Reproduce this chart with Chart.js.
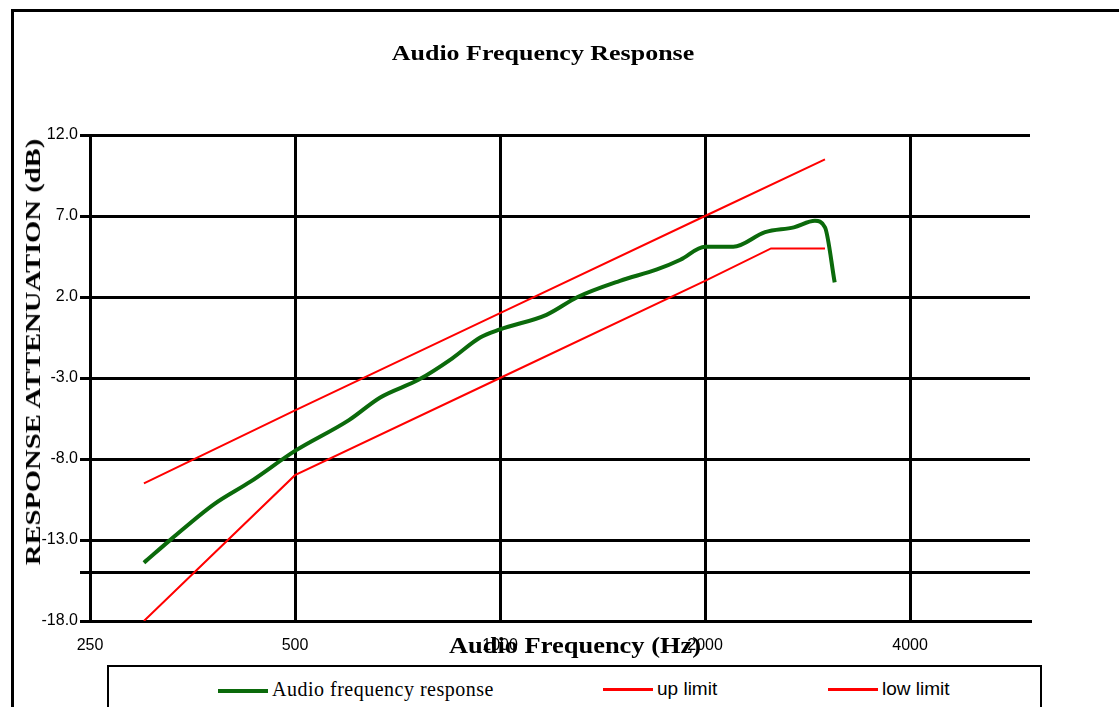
<!DOCTYPE html>
<html>
<head>
<meta charset="utf-8">
<script src="https://cdn.jsdelivr.net/npm/chart.js@4.4.1/dist/chart.umd.min.js"></script>
<style>
  html, body { margin: 0; padding: 0; background: #fff; overflow: hidden; }
  #wrap { position: relative; width: 1119px; height: 707px; overflow: hidden; }
  #frame { position: absolute; left: 11px; top: 9px; width: 1200px; height: 800px;
           border-left: 3px solid #000; border-top: 3px solid #000; }
  #chart { position: absolute; left: 0; top: 0; }
  .ttl { position: absolute; font-family: "Liberation Serif", serif; font-weight: bold; color: #000; white-space: nowrap; }
  #main-title { left: 543px; top: 53px; transform: translate(-50%, -50%) scaleX(1.18); font-size: 22px; }
  #x-title { left: 575px; top: 646px; transform: translate(-50%, -50%) scaleX(1.15); font-size: 23px; }
  #y-title { left: 33px; top: 352px; transform: translate(-50%, -50%) rotate(-90deg) scaleX(1.3); font-size: 22px; }
  #legend { position: absolute; left: 107px; top: 665px; width: 931px; height: 60px;
            border: 2px solid #000; background: #fff; }
  .item { position: absolute; top: 11px; color: #000; white-space: nowrap; }
  .item .sw { display: inline-block; width: 50px; height: 4px; vertical-align: middle; margin-right: 4px; }
</style>
</head>
<body>
<div id="wrap">
  <div id="frame"></div>
  <canvas id="chart" width="1119" height="707"></canvas>
  <div class="ttl" id="main-title">Audio Frequency Response</div>
  <div class="ttl" id="y-title">RESPONSE ATTENUATION (dB)</div>
  <div class="ttl" id="x-title">Audio Frequency (Hz)</div>
  <div id="legend">
    <div class="item" style="left:109px;font-family:'Liberation Serif',serif;font-size:20px;letter-spacing:0.5px"><span class="sw" style="background:#0b6a0b"></span>Audio frequency response</div>
    <div class="item" style="left:494px;font-family:'Liberation Sans',sans-serif;font-size:19px"><span class="sw" style="background:#ff0000;height:3px"></span>up limit</div>
    <div class="item" style="left:719px;font-family:'Liberation Sans',sans-serif;font-size:19px"><span class="sw" style="background:#ff0000;height:3px"></span>low limit</div>
  </div>
</div>
<script>
// data
const respFreq = [300, 330, 380, 430, 500, 600, 667, 760, 850, 935, 1000, 1170, 1300, 1500, 1700, 1840, 2000, 2200, 2450, 2700, 2900, 3000, 3100];
const response = [-14.4, -12.9, -10.8, -9.4, -7.5, -5.6, -4.2, -3.1, -1.8, -0.5, 0.0, 0.9, 2.0, 3.0, 3.7, 4.3, 5.1, 5.1, 6.0, 6.3, 6.7, 6.3, 2.9];
const upFreq = [300, 500, 1000, 2000, 3000];
const upLimit = [-9.5, -5.0, 1.0, 7.0, 10.5];
const lowFreq = [300, 500, 1000, 2000, 2500, 3000];
const lowLimit = [-18.0, -9.0, -3.0, 3.0, 5.0, 5.0];
const xTicks = [250, 500, 1000, 2000, 4000];
const yTicks = [12, 7, 2, -3, -8, -13, -18];
const yExtraGrid = [-15];

function pts(xs, ys) {
  return xs.map((x, i) => ({ x: x, y: ys[i] }));
}

const tickFont = { family: 'Liberation Sans', size: 16 };

new Chart(document.getElementById('chart').getContext('2d'), {
  type: 'line',
  data: {
    datasets: [
      {
        label: 'Audio frequency response',
        data: pts(respFreq, response),
        borderColor: '#0b6a0b',
        borderWidth: 4,
        pointRadius: 0,
        cubicInterpolationMode: 'monotone'
      },
      {
        label: 'up limit',
        data: pts(upFreq, upLimit),
        borderColor: '#ff0000',
        borderWidth: 2,
        pointRadius: 0,
        tension: 0
      },
      {
        label: 'low limit',
        data: pts(lowFreq, lowLimit),
        borderColor: '#ff0000',
        borderWidth: 2,
        pointRadius: 0,
        tension: 0
      }
    ]
  },
  options: {
    responsive: false,
    animation: false,
    layout: { padding: { left: 14, top: 135, right: 89, bottom: 0 } },
    plugins: { legend: { display: false }, tooltip: { enabled: false } },
    scales: {
      x: {
        type: 'logarithmic',
        min: 250,
        max: 6000,
        afterBuildTicks: s => { s.ticks = xTicks.map(v => ({ value: v })); },
        afterFit: s => { s.height = 86; },
        ticks: {
          autoSkip: false, maxRotation: 0, padding: 15,
          color: '#000', font: tickFont,
          callback: v => String(v)
        },
        grid: { color: '#000', lineWidth: 3, drawTicks: false },
        border: { color: '#000', width: 3 }
      },
      y: {
        min: -18,
        max: 12,
        afterBuildTicks: s => { s.ticks = yTicks.concat(yExtraGrid).map(v => ({ value: v })); },
        afterFit: s => { s.width = 76; },
        ticks: {
          autoSkip: false, padding: 2,
          color: '#000', font: tickFont,
          callback: v => yExtraGrid.includes(v) ? '' : v.toFixed(1)
        },
        grid: { color: '#000', lineWidth: 3, tickLength: 10 },
        border: { color: '#000', width: 3 }
      }
    }
  }
});
</script>
</body>
</html>
